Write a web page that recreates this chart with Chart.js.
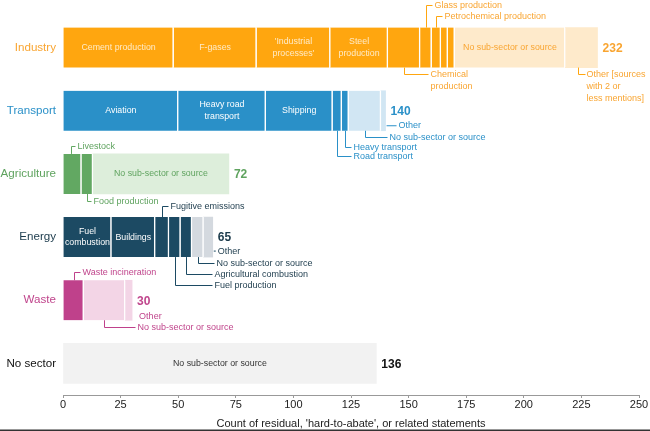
<!DOCTYPE html>
<html>
<head>
<meta charset="utf-8">
<script src="https://cdn.jsdelivr.net/npm/chart.js@4.4.1/dist/chart.umd.min.js"></script>
<style>
  html, body { margin: 0; padding: 0; background: #fff; }
  #wrap { width: 650px; height: 431px; position: relative; }
</style>
</head>
<body>
<div id="wrap"><canvas id="sectorChart"></canvas></div>
<script>
// sectors, top to bottom
const sectors = ["Industry", "Transport", "Agriculture", "Energy", "Waste", "No sector"];

// sub-sectors / sources and their counts, one pair of arrays per sector
const industrySources = ["Cement production", "F-gases", "'Industrial processes'", "Steel production",
  "Chemical production", "Glass production", "Petrochemical production", "Minor source A", "Minor source B",
  "No sub-sector or source", "Other [sources with 2 or less mentions]"];
const industryCounts = [48, 36, 32, 25, 14, 5, 4, 3, 3, 48, 14];

const transportSources = ["Aviation", "Heavy road transport", "Shipping", "Road transport", "Heavy transport",
  "No sub-sector or source", "Other"];
const transportCounts = [50, 38, 29, 4, 3, 14, 2];

const agricultureSources = ["Livestock", "Food production", "No sub-sector or source"];
const agricultureCounts = [8, 5, 59];

const energySources = ["Fuel combustion", "Buildings", "Fugitive emissions", "Fuel production",
  "Agricultural combustion", "No sub-sector or source", "Other"];
const energyCounts = [21, 19, 6, 5, 5, 5, 4];

const wasteSources = ["Waste incineration", "No sub-sector or source", "Other"];
const wasteCounts = [9, 18, 3];

const noSectorSources = ["No sub-sector or source"];
const noSectorCounts = [136];

// x axis ticks
const xTicks = [0, 25, 50, 75, 100, 125, 150, 175, 200, 225, 250];

const sources = [industrySources, transportSources, agricultureSources, energySources, wasteSources, noSectorSources];
const counts = [industryCounts, transportCounts, agricultureCounts, energyCounts, wasteCounts, noSectorCounts];

// colours per sector: main bar, light (no sub-sector / other), text
const darkColors = ["#FFA60F", "#2A90C8", "#62A862", "#1C4A63", "#BF418B", "#F2F2F2"];
const lightColors = ["#FEEACB", "#D1E6F3", "#DDEEDB", "#D4D9DF", "#F3D5E6", "#F2F2F2"];
const textColors = ["#F9A531", "#2A90C8", "#5FA35F", "#1B3A4B", "#C0458C", "#111111"];

const FONT = '"Liberation Sans", Arial, Helvetica, sans-serif';

const isLight = (name) => name.startsWith("No sub-sector") || name.startsWith("Other");

// text written inside the bars: [sector, segment, lines]
const innerLabels = [
  [0, 0, ["Cement production"]], [0, 1, ["F-gases"]], [0, 2, ["'Industrial", "processes'"]],
  [0, 3, ["Steel", "production"]], [0, 9, ["No sub-sector or source"]],
  [1, 0, ["Aviation"]], [1, 1, ["Heavy road", "transport"]], [1, 2, ["Shipping"]],
  [2, 2, ["No sub-sector or source"]],
  [3, 0, ["Fuel", "combustion"]], [3, 1, ["Buildings"]],
  [5, 0, ["No sub-sector or source"]]
];

// leader-line labels: side, offset from the bar edge, horizontal run (px)
const callouts = [
  { s: 0, i: 5, side: "top", off: 23, run: 6, text: ["Glass production"] },
  { s: 0, i: 6, side: "top", off: 12, run: 6, text: ["Petrochemical production"] },
  { s: 0, i: 4, side: "bottom", off: 6, run: 24, text: ["Chemical", "production"] },
  { s: 0, i: 10, side: "bottom", off: 6, run: 7, gap: 1, shift: -3, text: ["Other [sources", "with 2 or", "less mentions]"] },
  { s: 1, i: 6, side: "right", off: 15, run: 11, text: ["Other"] },
  { s: 1, i: 5, side: "bottom", off: 6, run: 22, text: ["No sub-sector or source"] },
  { s: 1, i: 4, side: "bottom", off: 16, run: 6, text: ["Heavy transport"] },
  { s: 1, i: 3, side: "bottom", off: 25, run: 14, text: ["Road transport"] },
  { s: 2, i: 0, side: "top", off: 8, run: 4, shift: -1, text: ["Livestock"] },
  { s: 2, i: 1, side: "bottom", off: 7, run: 4, text: ["Food production"] },
  { s: 3, i: 2, side: "top", off: 11, run: 6, text: ["Fugitive emissions"] },
  { s: 3, i: 6, side: "right", off: 14, run: 3, text: ["Other"] },
  { s: 3, i: 5, side: "bottom", off: 6, run: 16, text: ["No sub-sector or source"] },
  { s: 3, i: 4, side: "bottom", off: 17, run: 26, text: ["Agricultural combustion"] },
  { s: 3, i: 3, side: "bottom", off: 28, run: 37, text: ["Fuel production"] },
  { s: 4, i: 0, side: "top", off: 8, run: 6, text: ["Waste incineration"] },
  { s: 4, i: 2, side: "right", off: 16, run: 0, gap: 7, text: ["Other"] },
  { s: 4, i: 1, side: "bottom", off: 7, run: 31, text: ["No sub-sector or source"] }
];

// one dataset per segment position, stacked across sectors
const maxSegments = Math.max(...counts.map(c => c.length));
const datasets = [];
for (let i = 0; i < maxSegments; i++) {
  datasets.push({
    label: "segment " + (i + 1),
    data: sectors.map((_, s) => counts[s][i] ?? null),
    backgroundColor: sectors.map((_, s) => {
      const name = sources[s][i];
      if (!name) return "rgba(0,0,0,0)";
      return isLight(name) ? lightColors[s] : darkColors[s];
    }),
    borderColor: "#ffffff",
    borderWidth: (ctx) => {
      const last = counts[ctx.dataIndex] && ctx.datasetIndex === counts[ctx.dataIndex].length - 1;
      return { top: 0, bottom: 0, left: 0, right: last ? 0 : 1.5 };
    },
    borderSkipped: false,
    barThickness: 40
  });
}

const barOf = (chart, s, i) => chart.getDatasetMeta(i).data[s].getProps(["x", "base", "y", "height"], true);

const annotations = {
  id: "annotations",
  afterDatasetsDraw(chart) {
    const ctx = chart.ctx;
    ctx.save();

    // labels inside segments
    ctx.textAlign = "center";
    ctx.textBaseline = "middle";
    ctx.font = "8.8px " + FONT;
    innerLabels.forEach(([s, i, lines]) => {
      const b = barOf(chart, s, i);
      ctx.fillStyle = isLight(sources[s][i]) ? (s === 5 ? "#333" : textColors[s]) : (s === 0 ? "#FFEBC8" : "#ffffff");
      lines.forEach((line, k) => {
        ctx.fillText(line, (b.x + b.base) / 2, b.y + (k - (lines.length - 1) / 2) * 11.5);
      });
    });

    // leader lines with labels
    ctx.font = "9px " + FONT;
    ctx.textAlign = "left";
    ctx.lineWidth = 1;
    callouts.forEach(c => {
      const b = barOf(chart, c.s, c.i);
      const top = b.y - b.height / 2, bottom = b.y + b.height / 2;
      ctx.strokeStyle = c.s === 3 ? "#1C4A63" : darkColors[c.s];
      ctx.fillStyle = textColors[c.s];
      let x0, y1;
      ctx.beginPath();
      if (c.side === "right") {
        x0 = b.x; y1 = b.y + c.off;
        if (c.run > 0) { ctx.moveTo(x0 + 1, y1); ctx.lineTo(x0 + c.run, y1); }
      } else {
        x0 = Math.round((b.x + b.base) / 2 + (c.shift || 0)) + 0.5;
        const edge = c.side === "top" ? top : bottom;
        y1 = Math.round(c.side === "top" ? edge - c.off : edge + c.off) + 0.5;
        ctx.moveTo(x0, edge);
        ctx.lineTo(x0, y1);
        ctx.lineTo(x0 + c.run, y1);
      }
      ctx.stroke();
      const tx = x0 + c.run + (c.gap ?? 2);
      c.text.forEach((line, k) => ctx.fillText(line, tx, y1 + k * 12));
    });

    // totals at bar ends
    ctx.font = "bold 12px " + FONT;
    sectors.forEach((_, s) => {
      const b = barOf(chart, s, counts[s].length - 1);
      const total = counts[s].reduce((a, v) => a + v, 0);
      ctx.fillStyle = textColors[s];
      ctx.fillText(String(total), b.x + 5, b.y + 1);
    });

    // frame line at the bottom of the picture
    ctx.fillStyle = "#333";
    ctx.fillRect(0, chart.height - 1.5, chart.width, 1.5);
    ctx.restore();
  }
};

new Chart(document.getElementById("sectorChart"), {
  type: "bar",
  data: { labels: sectors, datasets: datasets },
  options: {
    indexAxis: "y",
    responsive: true,
    maintainAspectRatio: false,
    animation: false,
    layout: { padding: { top: 16, right: 11, left: 0, bottom: 0 } },
    plugins: { legend: { display: false }, tooltip: { enabled: false } },
    scales: {
      x: {
        stacked: true,
        min: 0,
        max: 250,
        afterBuildTicks: (scale) => { scale.ticks = xTicks.map(v => ({ value: v })); },
        afterFit: (scale) => { scale.height = 36; },
        grid: { drawOnChartArea: false, drawTicks: true, tickLength: 3, color: "#999" },
        border: { display: true, color: "#999", width: 1 },
        ticks: { color: "#222", font: { family: FONT, size: 11 }, padding: 0, maxRotation: 0 },
        title: {
          display: true,
          text: "Count of residual, 'hard-to-abate', or related statements",
          color: "#222",
          font: { family: FONT, size: 11 },
          padding: { top: 0, bottom: 0 }
        }
      },
      y: {
        stacked: true,
        afterFit: (scale) => { scale.width = 63; },
        grid: { display: false, drawTicks: false },
        border: { display: false },
        ticks: {
          padding: 7,
          font: { family: FONT, size: 11.6 },
          color: (ctx) => textColors[ctx.index]
        }
      }
    }
  },
  plugins: [annotations]
});
</script>
</body>
</html>
